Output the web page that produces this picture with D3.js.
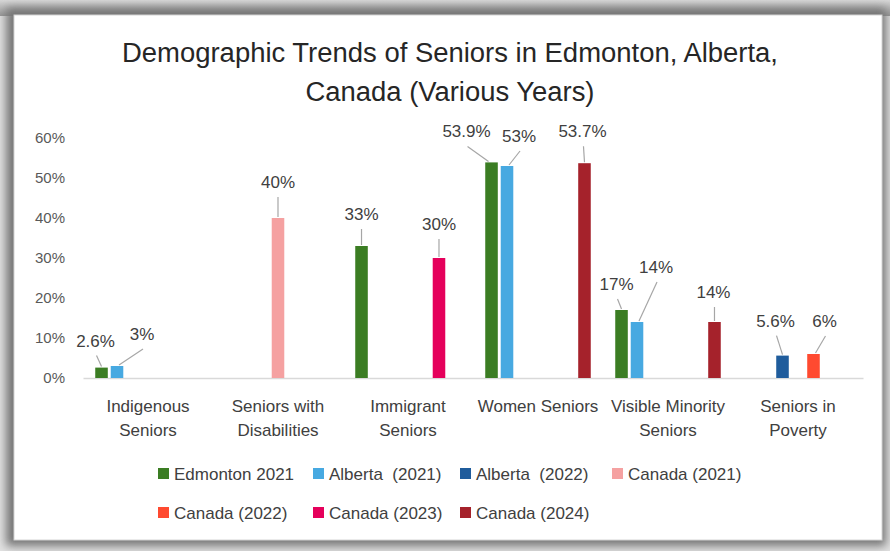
<!DOCTYPE html>
<html>
<head>
<meta charset="utf-8">
<script src="https://cdn.jsdelivr.net/npm/d3@7"></script>
<style>
  html, body { margin: 0; padding: 0; background: #e6e6e6; }
  svg { display: block; }
</style>
</head>
<body>
<svg id="chart" width="890" height="551"></svg>
<script>
// ---------- DATA ----------
const categories = ["Indigenous Seniors", "Seniors with Disabilities", "Immigrant Seniors",
                    "Women Seniors", "Visible Minority Seniors", "Seniors in Poverty"];
const categoryLines = [["Indigenous", "Seniors"], ["Seniors with", "Disabilities"], ["Immigrant", "Seniors"],
                       ["Women Seniors"], ["Visible Minority", "Seniors"], ["Seniors in", "Poverty"]];
const seriesNames = ["Edmonton 2021", "Alberta  (2021)", "Alberta  (2022)", "Canada (2021)",
                     "Canada (2022)", "Canada (2023)", "Canada (2024)"];
const edmonton2021 = [2.6, null, 33, 53.9, 17, null];
const alberta2021  = [3, null, null, 53, 14, null];
const alberta2022  = [null, null, null, null, null, 5.6];
const canada2021   = [null, 40, null, null, null, null];
const canada2022   = [null, null, null, null, null, 6];
const canada2023   = [null, null, 30, null, null, null];
const canada2024   = [null, null, null, 53.7, 14, null];
const yTicks = [0, 10, 20, 30, 40, 50, 60];
const titleLines = ["Demographic Trends of Seniors in Edmonton, Alberta,", "Canada (Various Years)"];

// ---------- STYLE / LAYOUT ----------
const seriesColors = ["#3b7d23", "#47a9e1", "#1f5c9c", "#f5a1a1", "#ff4a30", "#e5005b", "#a5222b"];
const seriesValues = [edmonton2021, alberta2021, alberta2022, canada2021, canada2022, canada2023, canada2024];
// data-label offsets (px) relative to bar top-centre: [dx, dy-to-baseline]
const labelOffsets = {
  "0|0": [-6, -21], "1|0": [25, -26], "3|1": [0, -30], "0|2": [0, -26], "5|2": [0, -28],
  "0|3": [-25, -25], "1|3": [12, -24], "6|3": [-2, -26], "0|4": [-5, -20], "1|4": [19, -49],
  "6|4": [-1, -24], "2|5": [-7, -29], "4|5": [11, -27]
};
const legendPos = [[158, 474], [313, 474], [460, 474], [612, 474], [158, 513], [313, 513], [460, 513]];
const titleWidths = [656, 289];

const svg = d3.select("#chart");
const W = 890, H = 551;

// background + card with shadow
const defs = svg.append("defs");
const f = defs.append("filter").attr("id", "shadow").attr("x", "-10%").attr("y", "-10%").attr("width", "120%").attr("height", "120%");
f.append("feGaussianBlur").attr("stdDeviation", 5);
const tg = defs.append("linearGradient").attr("id", "topg").attr("x1", 0).attr("y1", 0).attr("x2", 0).attr("y2", 1);
tg.append("stop").attr("offset", "0%").attr("stop-color", "#d8d8d8");
tg.append("stop").attr("offset", "100%").attr("stop-color", "#959595");

svg.append("rect").attr("width", W).attr("height", H).attr("fill", "#e2e2e2");
svg.append("rect").attr("x", 0).attr("y", 0).attr("width", W).attr("height", 16).attr("fill", "url(#topg)");
svg.append("rect").attr("x", 6).attr("y", 8).attr("width", 880).attr("height", 538)
  .attr("fill", "#757575").attr("filter", "url(#shadow)");
svg.append("rect").attr("x", 14).attr("y", 15).attr("width", 868).attr("height", 525)
  .attr("fill", "#ffffff").attr("stroke", "#d4d4d4").attr("stroke-width", 1);

// title
svg.append("g").selectAll("text").data(titleLines).join("text")
  .attr("x", 450).attr("y", (d, i) => 62 + i * 39)
  .attr("text-anchor", "middle")
  .attr("font-family", "Liberation Sans, Arial, sans-serif")
  .attr("font-size", 27).attr("fill", "#262626")
  .attr("textLength", (d, i) => titleWidths[i]).attr("lengthAdjust", "spacingAndGlyphs")
  .text(d => d);

// scales
const x0 = d3.scaleBand().domain(categories).range([83, 863]).paddingInner(0).paddingOuter(0);
const x1 = d3.scaleBand().domain(d3.range(seriesNames.length)).range([0, x0.bandwidth()])
  .paddingInner(0.19).paddingOuter(0.79);
const y = d3.scaleLinear().domain([0, 60]).range([378, 138]);

// y axis
const yAxis = svg.append("g").attr("transform", "translate(83,0)")
  .call(d3.axisLeft(y).tickValues(yTicks).tickFormat(d => d + "%").tickSize(0).tickPadding(18));
yAxis.select(".domain").remove();
yAxis.selectAll("text").attr("font-family", "Liberation Sans, Arial, sans-serif")
  .attr("font-size", 15).attr("fill", "#595959");

// x axis
const xAxis = svg.append("g").attr("transform", "translate(0,378)")
  .call(d3.axisBottom(x0).tickSize(0).tickFormat(""));
xAxis.select(".domain").attr("stroke", "#d9d9d9").attr("stroke-width", 1.5);
xAxis.selectAll(".tick").each(function(d, i) {
  const t = d3.select(this).select("text").attr("y", 0).attr("dy", null)
    .attr("font-family", "Liberation Sans, Arial, sans-serif")
    .attr("font-size", 17).attr("fill", "#404040");
  t.selectAll("tspan").data(categoryLines[i]).join("tspan")
    .attr("x", 0).attr("y", (l, j) => 34 + j * 24).text(l => l);
});

// bars
const barData = [];
seriesValues.forEach((arr, s) => arr.forEach((v, c) => {
  if (v !== null) barData.push({ s, c, v });
}));
const bx = d => x0(categories[d.c]) + x1(d.s);
svg.append("g").selectAll("rect").data(barData).join("rect")
  .attr("x", bx).attr("y", d => y(d.v))
  .attr("width", x1.bandwidth()).attr("height", d => y(0) - y(d.v))
  .attr("fill", d => seriesColors[d.s]);

// data labels with leader lines
const lg = svg.append("g");
barData.forEach(d => {
  const off = labelOffsets[d.s + "|" + d.c] || [0, -20];
  const cx = bx(d) + x1.bandwidth() / 2, top = y(d.v);
  const lx = cx + off[0], ly = top + off[1];
  lg.append("line").attr("x1", lx + (off[0] !== 0 ? 1 : 0)).attr("y1", ly + 9)
    .attr("x2", cx + (off[0] > 4 ? 2 : (off[0] < -10 ? -3 : 0))).attr("y2", top - 1)
    .attr("stroke", "#a6a6a6").attr("stroke-width", 1.2);
  lg.append("text").attr("x", lx).attr("y", ly).attr("text-anchor", "middle")
    .attr("font-family", "Liberation Sans, Arial, sans-serif")
    .attr("font-size", 17).attr("fill", "#404040")
    .text(d.v + "%");
});

// legend
const leg = svg.append("g").selectAll("g").data(seriesNames).join("g")
  .attr("transform", (d, i) => `translate(${legendPos[i][0]},${legendPos[i][1]})`);
leg.append("rect").attr("x", 0).attr("y", -6).attr("width", 11).attr("height", 11)
  .attr("fill", (d, i) => seriesColors[i]);
leg.append("text").attr("x", 16).attr("y", 6)
  .attr("font-family", "Liberation Sans, Arial, sans-serif")
  .attr("font-size", 17).attr("fill", "#404040")
  .style("white-space", "pre").attr("xml:space", "preserve")
  .text(d => d);
</script>
</body>
</html>
